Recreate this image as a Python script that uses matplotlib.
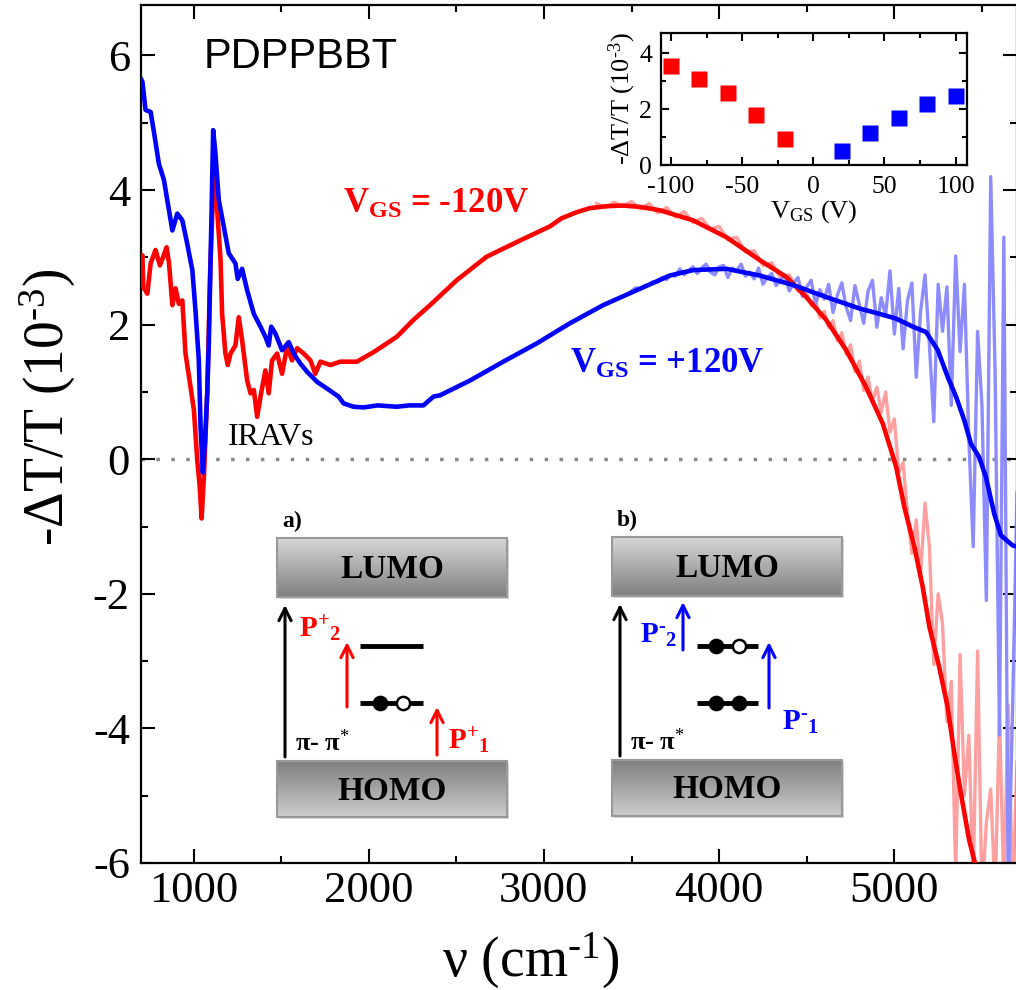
import numpy as np
import matplotlib.pyplot as plt
from matplotlib.patches import Rectangle

plt.rcParams['font.family'] = ['Liberation Serif', 'DejaVu Serif']
plt.rcParams['axes.unicode_minus'] = False
plt.rcParams['mathtext.fontset'] = 'custom'
plt.rcParams['mathtext.rm'] = 'Liberation Serif'
plt.rcParams['mathtext.it'] = 'Liberation Serif:italic'
plt.rcParams['mathtext.bf'] = 'Liberation Serif:bold'

# smoothed spectra, V_GS = -120 V (red) and +120 V (blue)
nu_neg = [700, 708, 713, 736, 755, 783, 808, 827, 846, 860, 879, 897, 916, 936, 954, 983,
          1002, 1021, 1035, 1046, 1060, 1078, 1095, 1116, 1135, 1154, 1163, 1182, 1195, 1211,
          1239, 1258, 1277, 1306, 1325, 1344, 1363, 1382, 1410, 1429, 1448, 1477, 1505, 1534,
          1562, 1591, 1629, 1667, 1695, 1724, 1781, 1838, 1932, 2027, 2160, 2255, 2350, 2502,
          2673, 2863, 3034, 3100, 3186, 3260, 3356, 3450, 3547, 3661, 3851, 4041, 4231, 4383,
          4497, 4611, 4725, 4839, 4934, 5010, 5057, 5114, 5162, 5200, 5256, 5304, 5342, 5380,
          5427, 5465, 5500]
dt_neg = [2.95, 3.03, 2.56, 2.46, 2.91, 3.11, 2.88, 3.01, 3.15, 2.91, 2.29, 2.54, 2.31, 2.36,
          1.57, 1.07, 0.73, -0.01, -0.40, -0.88, -0.20, 0.98, 2.80, 4.29, 3.70, 2.96, 2.16,
          1.57, 1.40, 1.57, 1.69, 2.11, 1.77, 1.17, 0.98, 1.03, 0.63, 0.93, 1.32, 0.98, 1.47,
          1.57, 1.27, 1.67, 1.47, 1.65, 1.57, 1.47, 1.27, 1.45, 1.40, 1.45, 1.45, 1.59, 1.82,
          2.07, 2.29, 2.66, 3.01, 3.25, 3.46, 3.58, 3.67, 3.73, 3.76, 3.77, 3.75, 3.70, 3.55,
          3.30, 2.96, 2.71, 2.41, 2.07, 1.62, 1.07, 0.53, -0.11, -0.71, -1.30, -1.90, -2.49,
          -3.09, -3.68, -4.37, -4.97, -5.66, -6.05, -6.50]

nu_pos = [700, 708, 726, 755, 774, 802, 831, 850, 879, 907, 936, 964, 993, 1011, 1030, 1040,
          1053, 1066, 1078, 1087, 1101, 1112, 1125, 1144, 1173, 1201, 1239, 1252, 1277, 1306,
          1344, 1382, 1410, 1429, 1443, 1467, 1505, 1543, 1572, 1610, 1648, 1705, 1762, 1828,
          1856, 1913, 1970, 2050, 2160, 2230, 2312, 2369, 2407, 2578, 2768, 2958, 3148, 3338,
          3528, 3718, 3851, 4041, 4231, 4421, 4611, 4801, 4915, 5010, 5105, 5181, 5248, 5305,
          5352, 5399, 5437, 5484, 5522, 5570, 5608, 5674, 5700]
dt_pos = [5.65, 5.61, 5.19, 5.16, 4.86, 4.39, 4.15, 3.85, 3.40, 3.65, 3.55, 3.20, 2.81, 2.21,
          1.47, 0.48, -0.20, 0.30, 0.98, 1.72, 3.45, 4.89, 4.54, 3.85, 3.45, 3.06, 2.91, 2.68,
          2.83, 2.51, 2.16, 1.97, 1.82, 1.69, 1.97, 1.87, 1.62, 1.74, 1.57, 1.42, 1.30, 1.15,
          1.05, 0.93, 0.83, 0.78, 0.77, 0.80, 0.78, 0.80, 0.80, 0.93, 0.95, 1.17, 1.45, 1.72,
          2.02, 2.29, 2.51, 2.73, 2.81, 2.83, 2.73, 2.59, 2.41, 2.24, 2.16, 2.09, 1.97, 1.89,
          1.62, 1.22, 0.93, 0.58, 0.23, 0.03, -0.26, -0.81, -1.13, -1.28, -1.30]

# raw (unsmoothed) spectra where they differ from the smoothed ones
nu_raw_neg = [3300, 3350, 3400, 3450, 3500, 3550, 3600, 3650, 3700, 3750, 3800, 3850, 3900,
              3950, 4000, 4050, 4100, 4150, 4200, 4250, 4300, 4350, 4400, 4450,
              4500, 4525, 4550, 4575, 4600, 4625, 4650, 4675, 4700, 4725, 4750, 4775, 4800,
              4825, 4850, 4875, 4900, 4925, 4950, 4975, 5000, 5025, 5050, 5075, 5100, 5125,
              5150, 5175, 5200, 5225, 5250, 5275, 5300, 5325, 5350, 5375, 5400, 5425, 5450,
              5475, 5500, 5525, 5550, 5575, 5600, 5625, 5650, 5675, 5700]
dt_raw_neg = [3.80, 3.74, 3.82, 3.76, 3.83, 3.72, 3.80, 3.66, 3.74, 3.60, 3.68, 3.52, 3.58,
              3.42, 3.46, 3.26, 3.30, 3.08, 3.10, 2.88, 2.92, 2.70, 2.74, 2.50,
              2.46, 2.28, 2.36, 2.10, 2.20, 1.96, 2.06, 1.76, 1.88, 1.56, 1.70, 1.30, 1.46,
              1.02, 1.22, 0.86, 1.07, 0.70, 1.00, 0.40, 0.60, -0.20, -0.05, -0.80, -1.40, -0.90,
              -1.70, -0.65, -1.30, -3.05, -2.00, -2.45, -3.90, -3.30, -6.20, -2.90, -5.00, -4.10,
              -6.30, -2.85, -6.50, -5.40, -4.90, -6.50, -3.80, -6.40, -3.65, -6.50, -4.50]

nu_raw_pos = [3500, 3525, 3550, 3575, 3600, 3625, 3650, 3675, 3700, 3725, 3750, 3775, 3800,
              3825, 3850, 3875, 3900, 3925, 3950, 3975, 4000, 4025, 4050, 4075, 4100, 4125,
              4150, 4175, 4200, 4225, 4250, 4275, 4300, 4325, 4350, 4375, 4400, 4425, 4450,
              4475, 4500, 4525, 4550, 4575, 4600, 4625, 4650, 4675, 4700, 4725, 4750, 4775,
              4800, 4825, 4850, 4875, 4900, 4925, 4950, 4975, 5000, 5025, 5050, 5075, 5100,
              5125, 5150, 5175, 5200, 5225, 5250, 5275, 5300, 5325, 5350, 5375, 5400, 5425,
              5450, 5475, 5500, 5525, 5550, 5575, 5600, 5625, 5650, 5675, 5700]
dt_raw_pos = [2.50, 2.55, 2.53, 2.58, 2.60, 2.64, 2.63, 2.70, 2.67, 2.74, 2.72, 2.83, 2.74,
              2.80, 2.86, 2.76, 2.84, 2.90, 2.78, 2.74, 2.86, 2.88, 2.70, 2.84, 2.80, 2.90,
              2.72, 2.78, 2.68, 2.84, 2.60, 2.70, 2.76, 2.58, 2.66, 2.74, 2.50, 2.62, 2.70,
              2.42, 2.56, 2.66, 2.30, 2.52, 2.38, 2.60, 2.18, 2.44, 2.62, 2.26, 2.06, 2.58,
              2.30, 2.02, 2.50, 2.66, 1.96, 2.40, 2.14, 2.80, 1.86, 2.54, 1.64, 2.36, 2.62,
              1.22, 2.20, 2.74, 1.70, 0.56, 2.60, 1.90, 2.56, 0.80, 3.02, 1.60, 2.60, 0.30,
              -1.30, 1.90, 0.80, -2.10, 4.20, 1.30, -4.10, 3.30, -6.50, -3.70, -0.50]

# inset: peak amplitude vs gate voltage
vgs_neg = [-100, -80, -60, -40, -20]
amp_neg = [3.55, 3.09, 2.57, 1.78, 0.94]
vgs_pos = [20, 40, 60, 80, 100]
amp_pos = [0.50, 1.14, 1.67, 2.18, 2.48]

RED = '#ff0000'
BLUE = '#0000ff'
HY = '\u2010'  # short hyphen, used in superscripts as in the original figure

fig = plt.figure(figsize=(10.16, 9.9), dpi=100)
ax = fig.add_axes([141 / 1016, 127 / 990, 876 / 1016, 858 / 990])

ax.axhline(0, color='#888888', lw=2.5, ls=(0, (1, 3.3)), zorder=1)
ax.plot(nu_raw_neg, dt_raw_neg, color='#ffa0a0', lw=2.4, zorder=2)
ax.plot(nu_raw_pos, dt_raw_pos, color='#8c8cff', lw=2.4, zorder=2)
ax.plot(nu_neg, dt_neg, color=RED, lw=3.3, zorder=3)
ax.plot(nu_pos, dt_pos, color=BLUE, lw=3.3, zorder=4)

ax.set_xlim(700, 5700)
ax.set_ylim(-6, 6.75)
ax.set_xticks([1000, 2000, 3000, 4000, 5000])
ax.set_xticks([1500, 2500, 3500, 4500, 5500], minor=True)
ax.set_yticks([-6, -4, -2, 0, 2, 4, 6])
ax.set_yticks([-5, -3, -1, 1, 3, 5], minor=True)
ax.tick_params(which='both', direction='in', top=True, right=True, width=1.5, labelsize=32)
ax.tick_params(which='major', length=10)
ax.tick_params(which='minor', length=5)
ax.tick_params(axis='y', pad=8)
ax.tick_params(axis='x', pad=6)
for s in ax.spines.values():
    s.set_linewidth(1.6)

fig.text(48 / 1016, 1 - 407 / 990, '-ΔT/T (10$^{' + HY + '3}$)', rotation=90, fontsize=40,
         ha='center', va='center')
fig.text(531 / 1016, 13 / 990, 'ν (cm$^{' + HY + '1}$)', fontsize=40, ha='center',
         va='baseline')

ax.text(1057, 5.97, 'PDPPBBT', family='Liberation Sans', fontsize=30, ha='left', va='center')
ax.text(1194, 0.33, 'IRAVs', fontsize=23, ha='left', va='center')
ax.text(1855, 3.66, r'$\mathbf{V_{GS}}$ = -120V', color=RED, fontsize=25, fontweight='bold',
        ha='left', va='baseline')
ax.text(3148, 1.29, r'$\mathbf{V_{GS}}$ = +120V', color=BLUE, fontsize=25, fontweight='bold',
        ha='left', va='baseline')

# inset
axi = fig.add_axes([661 / 1016, 825 / 990, 306 / 1016, 132 / 990])
axi.plot(vgs_neg, amp_neg, 's', color=RED, ms=11, mec='none')
axi.plot(vgs_pos, amp_pos, 's', color=BLUE, ms=11, mec='none')
axi.set_xlim(-107, 108)
axi.set_ylim(0, 4.72)
axi.set_xticks([-100, -50, 0, 50, 100])
axi.set_xticks([-75, -25, 25, 75], minor=True)
axi.set_yticks([0, 2, 4])
axi.set_yticks([1, 3], minor=True)
axi.tick_params(which='both', direction='in', top=True, right=True, width=1.5,
                labelsize=18.5)
axi.tick_params(axis='y', pad=6.5)
axi.tick_params(axis='x', pad=8)
axi.tick_params(which='major', length=6)
axi.tick_params(which='minor', length=3.5)
for s in axi.spines.values():
    s.set_linewidth(1.6)
axi.set_ylabel('-ΔT/T (10$^{' + HY + '3}$)', fontsize=19, labelpad=1)
axi.set_xlabel('V$_{\\rm GS}$ (V)', fontsize=19, labelpad=0)

# energy level schematics, drawn in figure pixel coordinates
ov = fig.add_axes([0, 0, 1, 1], zorder=5)
ov.set_axis_off()


def level_box(x0, y0, w, h, label, light_top):
    grad = np.linspace(0.84, 0.5, 60) if light_top else np.linspace(0.5, 0.8, 60)
    ov.add_patch(Rectangle((x0 + 2, y0 + 2), w, h, fc='#d8d8d8', ec='none', zorder=1))
    ov.imshow(grad[:, None], cmap='gray', vmin=0, vmax=1, aspect='auto',
              extent=(x0, x0 + w, y0 + h, y0), zorder=2)
    ov.add_patch(Rectangle((x0, y0), w, h, fill=False, ec='#999999', lw=1.5, zorder=3))
    ov.text(x0 + w / 2, y0 + h / 2 + 2, label, fontsize=24, fontweight='bold',
            ha='center', va='center', zorder=4)


def arrow(x, y_from, y_to, color):
    ov.annotate('', xy=(x, y_to), xytext=(x, y_from),
                arrowprops=dict(arrowstyle='->', color=color, lw=2.2, mutation_scale=22,
                                shrinkA=0, shrinkB=0))


def level(x0, x1, y, dots):
    ov.plot([x0, x1], [y, y], color='black', lw=3.5, solid_capstyle='butt', zorder=4)
    for xd, filled in dots:
        ov.plot(xd, y, 'o', ms=9.5, mec='black', mew=1.8,
                mfc='black' if filled else 'white', zorder=5)


def panel(x0, y0, tag, polarons):
    ov.text(x0 + 5, y0 - 17, tag, fontsize=17, fontweight='bold', ha='left', va='center')
    level_box(x0, y0, 230, 59, 'LUMO', True)
    level_box(x0, y0 + 223, 230, 56, 'HOMO', False)
    arrow(x0 + 8, y0 + 219, y0 + 67, 'black')
    ov.text(x0 + 18, y0 + 205, r'$\mathbf{\pi}$- $\mathbf{\pi}^{*}$', fontsize=19,
            fontweight='bold', ha='left', va='center')
    polarons(x0, y0)


def positive(x0, y0):
    arrow(x0 + 70, y0 + 169, y0 + 104, RED)
    arrow(x0 + 160, y0 + 217, y0 + 169, RED)
    level(x0 + 83, x0 + 146, y0 + 108, [])
    level(x0 + 83, x0 + 146, y0 + 165, [(x0 + 103, True), (x0 + 126, False)])
    ov.text(x0 + 22, y0 + 91, r'$\mathbf{{P^{+}}_{2}}$', color=RED, fontsize=21,
            ha='left', va='center')
    ov.text(x0 + 171, y0 + 203, r'$\mathbf{{P^{+}}_{1}}$', color=RED, fontsize=21,
            ha='left', va='center')


def negative(x0, y0):
    arrow(x0 + 71, y0 + 113, y0 + 65, BLUE)
    arrow(x0 + 157, y0 + 171, y0 + 105, BLUE)
    level(x0 + 85, x0 + 146, y0 + 109, [(x0 + 104, True), (x0 + 127, False)])
    level(x0 + 85, x0 + 146, y0 + 166, [(x0 + 104, True), (x0 + 127, True)])
    ov.text(x0 + 28, y0 + 98, r'$\mathbf{{P^{' + HY + '}}_{2}}$', color=BLUE, fontsize=21,
            ha='left', va='center')
    ov.text(x0 + 170, y0 + 185, r'$\mathbf{{P^{' + HY + '}}_{1}}$', color=BLUE, fontsize=21,
            ha='left', va='center')


panel(277, 538, 'a)', positive)
panel(612, 537, 'b)', negative)
ov.set_xlim(0, 1016)
ov.set_ylim(990, 0)

fig.savefig('out.png', dpi=100)
